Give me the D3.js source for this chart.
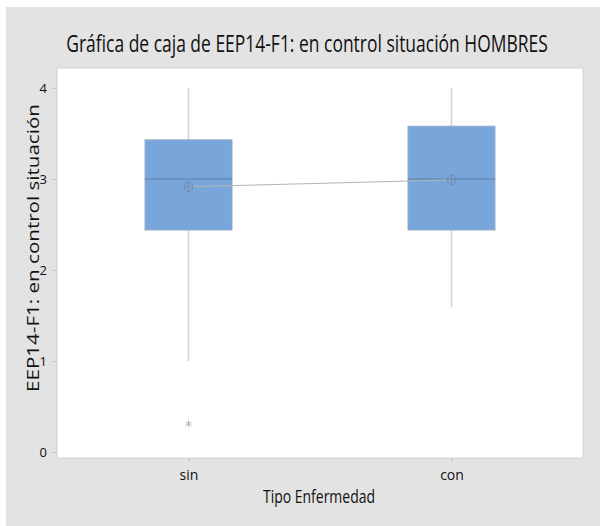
<!DOCTYPE html>
<html><head><meta charset="utf-8">
<script src="https://cdn.jsdelivr.net/npm/d3@7"></script>
<style>html,body{margin:0;padding:0;background:#fff;}</style>
</head><body>
<svg id="chart" width="600" height="526"></svg>
<script>
const categories = ["sin", "con"];
const whiskerLow = [1.0, 1.59];
const q1 = [2.44, 2.44];
const median = [3.0, 3.0];
const q3 = [3.43, 3.58];
const whiskerHigh = [4.0, 4.0];
const means = [2.915, 2.99];
const outliers = [[0.31], []];
const yTicks = [0, 1, 2, 3, 4];
const title = "Gráfica de caja de EEP14-F1: en control situación HOMBRES";
const xTitle = "Tipo Enfermedad";
const yTitle = "EEP14-F1: en control situación";

const svg = d3.select("#chart");
const font = "'Open Sans', 'Noto Sans', sans-serif";
svg.append("rect").attr("x", 6).attr("y", 7).attr("width", 594).attr("height", 519).attr("fill", "#e3e3e3");

const plot = {l: 57, r: 583, t: 68, b: 458};
svg.append("rect").attr("x", plot.l).attr("y", plot.t).attr("width", plot.r - plot.l).attr("height", plot.b - plot.t)
  .attr("fill", "#fff").attr("stroke", "#d2d2d2").attr("stroke-width", 1);

const y = d3.scaleLinear().domain([-0.066, 4.22]).range([plot.b, plot.t]);
const x = d3.scalePoint().domain(categories).range([plot.l, plot.r]).padding(0.5);
const boxW = 87;

// axes
const yAxis = svg.append("g").attr("transform", `translate(${plot.l},0)`)
  .call(d3.axisLeft(y).tickValues(yTicks).tickFormat(d3.format("d")).tickSize(4).tickPadding(6));
const xAxis = svg.append("g").attr("transform", `translate(0,${plot.b})`)
  .call(d3.axisBottom(x).tickSize(4).tickPadding(8));
[yAxis, xAxis].forEach(a => {
  a.select(".domain").remove();
  a.selectAll(".tick line").attr("stroke", "#c4c4c4");
  a.selectAll(".tick text").attr("fill", "#111").attr("font-family", font).attr("font-size", 13);
});
xAxis.selectAll(".tick text").attr("font-size", 14);

const data = categories.map((c, i) => ({c, lo: whiskerLow[i], q1: q1[i], med: median[i], q3: q3[i], hi: whiskerHigh[i], mean: means[i], out: outliers[i]}));

const g = svg.append("g");
// whiskers
g.selectAll(".wh").data(data).join("line")
  .attr("x1", d => x(d.c)).attr("x2", d => x(d.c))
  .attr("y1", d => y(d.lo)).attr("y2", d => y(d.hi))
  .attr("stroke", "#d3d3d3").attr("stroke-width", 1.6);
// boxes
g.selectAll(".box").data(data).join("rect")
  .attr("x", d => x(d.c) - boxW / 2).attr("width", boxW)
  .attr("y", d => y(d.q3)).attr("height", d => y(d.q1) - y(d.q3))
  .attr("fill", "#78a6da").attr("stroke", "#93aaca").attr("stroke-width", 1);
// median
g.selectAll(".med").data(data).join("line")
  .attr("x1", d => x(d.c) - boxW / 2).attr("x2", d => x(d.c) + boxW / 2)
  .attr("y1", d => y(d.med)).attr("y2", d => y(d.med))
  .attr("stroke", "#5b7ea8").attr("stroke-width", 1);
// mean connect line
g.append("path").datum(data)
  .attr("d", d3.line().x(d => x(d.c)).y(d => y(d.mean)))
  .attr("fill", "none").attr("stroke", "#b4b4b4").attr("stroke-width", 1);
// mean symbols
const ms = g.selectAll(".mean").data(data).join("g")
  .attr("transform", d => `translate(${x(d.c)},${y(d.mean)})`);
ms.append("ellipse").attr("rx", 4.2).attr("ry", 5).attr("fill", "none").attr("stroke", "#7389a6").attr("stroke-width", 0.9);
ms.append("line").attr("x1", -4.2).attr("x2", 4.2).attr("stroke", "#7389a6").attr("stroke-width", 0.9);
ms.append("line").attr("y1", -5).attr("y2", 5).attr("stroke", "#7389a6").attr("stroke-width", 0.9);
// outliers
data.forEach(d => {
  d.out.forEach(v => {
    const og = g.append("g").attr("transform", `translate(${x(d.c)},${y(v)})`);
    [0, 60, 120].forEach(a => {
      og.append("line").attr("x1", 0).attr("y1", -3.5).attr("x2", 0).attr("y2", 3.5)
        .attr("transform", `rotate(${a})`).attr("stroke", "#b0b0b0").attr("stroke-width", 0.9);
    });
  });
});

// titles fitted by horizontal scaling
function fitText(cx, cy, rot, size, width, txt, weight) {
  const outer = svg.append("g").attr("transform", `translate(${cx},${cy}) rotate(${rot})`);
  const inner = outer.append("g");
  const t = inner.append("text").attr("text-anchor", "middle")
    .attr("font-family", font).attr("font-size", size).attr("font-weight", weight || 400)
    .attr("fill", "#111").text(txt);
  const w = t.node().getComputedTextLength();
  inner.attr("transform", `scale(${width / w},1)`);
}
fitText(307, 52, 0, 23, 482, title);
fitText(319, 503, 0, 18, 112, xTitle);
fitText(39, 248, -90, 17, 288, yTitle, 500);
</script>
</body></html>
